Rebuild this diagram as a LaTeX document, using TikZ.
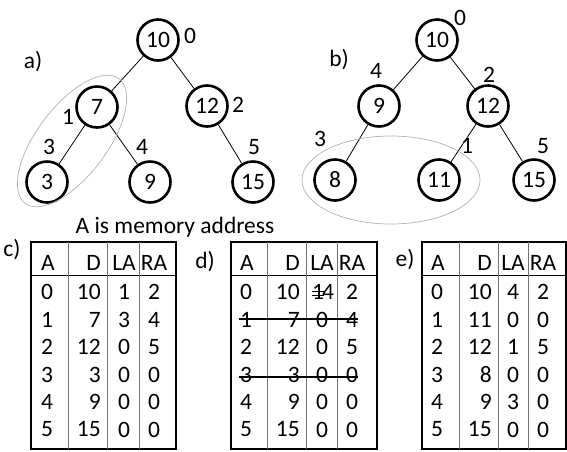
\documentclass[tikz,border=0pt]{standalone}
\usepackage{fontspec}
\setmainfont{Carlito}
\begin{document}
\begin{tikzpicture}[x=1pt,y=-1pt,
  txt/.style={inner sep=0pt, font=\fontsize{23.5}{27}\selectfont},
  nd/.style={circle, draw, line width=2.6pt, minimum size=41pt, inner sep=0pt, font=\fontsize{23.5}{27}\selectfont},
  edge/.style={line width=0.8pt},
  halo/.style={draw=black!30, line width=0.7pt},
  tbox/.style={line width=1.8pt},
  vsep/.style={draw=black!55, line width=1pt},
  hsep/.style={line width=1pt},
  strike/.style={line width=2pt},
  ]
\useasboundingbox (0,0) rectangle (567,451);
% ---- tree a
\node[nd] (a0) at (158,40) {10};
\node[nd] (a1) at (97,107) {7};
\node[nd] (a2) at (207,106) {12};
\node[nd] (a3) at (47,182) {3};
\node[nd] (a4) at (150,182) {9};
\node[nd] (a5) at (253,182) {15};
\draw[edge] (a0) -- (a1); \draw[edge] (a0) -- (a2);
\draw[edge] (a1) -- (a3); \draw[edge] (a1) -- (a4);
\draw[edge] (a2) -- (a5);
\draw[halo, rotate around={53:(72,141)}] (72,141) ellipse [x radius=78, y radius=35];
\node[txt] (la) at (33,62) {a)};
\node[txt] (la0) at (190,36) {0};
\node[txt] (la1) at (68,117) {1};
\node[txt] (la2) at (238,105) {2};
\node[txt] (la3) at (49,147) {3};
\node[txt] (la4) at (142,147) {4};
\node[txt] (la5) at (254,147) {5};
% ---- tree b
\node[nd] (b0) at (437,40) {10};
\node[nd] (b1) at (379,106) {9};
\node[nd] (b2) at (488,106) {12};
\node[nd] (b3) at (335,180) {8};
\node[nd] (b4) at (439,180) {11};
\node[nd] (b5) at (534,180) {15};
\draw[edge] (b0) -- (b1); \draw[edge] (b0) -- (b2);
\draw[edge] (b1) -- (b3); \draw[edge] (b2) -- (b4);
\draw[edge] (b2) -- (b5);
\draw[halo] (391,180) ellipse [x radius=89, y radius=44];
\node[txt] (lb) at (339,60) {b)};
\node[txt] (lb0) at (460,18) {0};
\node[txt] (lb4) at (376,71) {4};
\node[txt] (lb2) at (489,75) {2};
\node[txt] (lb3) at (320,139) {3};
\node[txt] (lb1) at (467,146) {1};
\node[txt] (lb5) at (543,146) {5};
% ---- caption
\node[txt] (cap) at (175,227) {A is memory address};
% ---- table c
\node[txt] (lc) at (12,250) {c)};
\draw[tbox] (31,242) rectangle (176,449);
\draw[hsep] (31,275) -- (176,275);
\foreach \x in {68,107,139} \draw[vsep] (\x,242) -- (\x,449);
\node[txt,anchor=west] (cA) at (41,263) {A};
\node[txt,anchor=east] (cD) at (101,263) {D};
\node[txt] (cLA) at (124,263) {LA};
\node[txt] (cRA) at (154,263) {RA};
\foreach \a/\d/\l/\r [count=\i from 0] in {0/10/1/2,1/7/3/4,2/12/0/5,3/3/0/0,4/9/0/0,5/15/0/0}{
  \node[txt,anchor=west] (ca\i) at (41,292+27.5*\i) {\a};
  \node[txt,anchor=east] (cd\i) at (101,292+27.5*\i) {\d};
  \node[txt] (cl\i) at (124,292+27.5*\i) {\l};
  \node[txt] (cr\i) at (154,292+27.5*\i) {\r};
}
% ---- table d
\node[txt] (ld) at (205,262) {d)};
\draw[tbox] (231,242) rectangle (377,449);
\draw[hsep] (231,275) -- (377,275);
\foreach \x in {267,306,337} \draw[vsep] (\x,242) -- (\x,449);
\node[txt,anchor=west] (dA) at (240,263) {A};
\node[txt,anchor=east] (dD) at (300,263) {D};
\node[txt] (dLA) at (322,263) {LA};
\node[txt] (dRA) at (352,263) {RA};
\foreach \a/\d/\l/\r [count=\i from 0] in {0/10//2,1/7/0/4,2/12/0/5,3/3/0/0,4/9/0/0,5/15/0/0}{
  \node[txt,anchor=west] (da\i) at (240,292+27.5*\i) {\a};
  \node[txt,anchor=east] (dd\i) at (300,292+27.5*\i) {\d};
  \node[txt] (dl\i) at (322,292+27.5*\i) {\l};
  \node[txt] (dr\i) at (352,292+27.5*\i) {\r};
}
\node[txt] (dlold) at (318,292) {1};
\node[txt] (dlnew) at (328,292) {4};
\draw[line width=1pt] (312,291) -- (324,291);
\draw[line width=1pt] (312,295) -- (324,295);
\draw[strike] (239,319) -- (358,319);
\draw[strike] (239,377) -- (358,377);
% ---- table e
\node[txt] (le) at (405,260) {e)};
\draw[tbox] (422,242) rectangle (566,449);
\draw[hsep] (422,275) -- (566,275);
\foreach \x in {459,498,528} \draw[vsep] (\x,242) -- (\x,449);
\node[txt,anchor=west] (eA) at (431,263) {A};
\node[txt,anchor=east] (eD) at (492,263) {D};
\node[txt] (eLA) at (513,263) {LA};
\node[txt] (eRA) at (543,263) {RA};
\foreach \a/\d/\l/\r [count=\i from 0] in {0/10/4/2,1/11/0/0,2/12/1/5,3/8/0/0,4/9/3/0,5/15/0/0}{
  \node[txt,anchor=west] (ea\i) at (431,292+27.5*\i) {\a};
  \node[txt,anchor=east] (ed\i) at (492,292+27.5*\i) {\d};
  \node[txt] (el\i) at (513,292+27.5*\i) {\l};
  \node[txt] (er\i) at (543,292+27.5*\i) {\r};
}
\end{tikzpicture}
\end{document}
